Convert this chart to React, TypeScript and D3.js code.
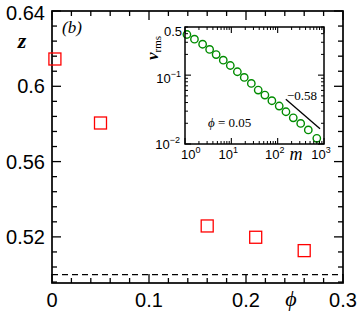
import React from "react";
import * as d3 from "d3";

// main panel: exponent z against packing fraction phi
const phiValues = [0.003, 0.05, 0.16, 0.21, 0.26];
const zValues = [0.6145, 0.5805, 0.5258, 0.5198, 0.5127];
const zRef = 0.5;
const xTickVals = [0, 0.1, 0.2, 0.3];
const xTickLabels = ["0", "0.1", "0.2", "0.3"];
const yTickVals = [0.52, 0.56, 0.6, 0.64];
const yTickLabels = ["0.52", "0.56", "0.6", "0.64"];

// inset: v_rms against m at phi = 0.05
const mValues = [1.1, 1.6, 2.4, 3.4, 4.7, 6.7, 9.5, 13.5, 19, 27, 38, 53, 75, 108, 151, 217, 314, 458, 699];
const vValues = [0.389, 0.333, 0.281, 0.236, 0.199, 0.165, 0.138, 0.112, 0.0927, 0.0759, 0.0607, 0.0513, 0.0425, 0.0356, 0.0294, 0.024, 0.0199, 0.016, 0.0121];
const slopeM = [150, 820];
const slopeV = [0.0445, 0.0166];
const insetXTicks = [1, 10, 100, 1000];
const insetXExps = ["0", "1", "2", "3"];
const insetYTicks = [0.01, 0.1, 0.5];

const W = 361;
const H = 318;
const sans = "'Liberation Sans', Arial, sans-serif";
const serif = "'Liberation Serif', 'Times New Roman', serif";

export default function App() {
  const m = { left: 52, right: 343, top: 11, bottom: 283 };
  const x = d3.scaleLinear().domain([0, 0.3]).range([m.left, m.right]);
  const y = d3.scaleLinear().domain([0.4955, 0.64]).range([m.bottom, m.top]);

  const xMinor = d3.range(0, 0.3001, 0.02);
  const yMinor = d3.range(0.496, 0.6401, 0.008);

  // inset frame
  const ins = { left: 185, right: 324, top: 27, bottom: 144 };
  const ix = d3.scaleLog().domain([1, 1000]).range([ins.left, ins.right]);
  const iy = d3.scaleLog().domain([0.01, 0.5]).range([ins.bottom, ins.top]);
  const ixMinor: number[] = [];
  [1, 10, 100].forEach((d) => {
    for (let k = 2; k <= 9; k++) ixMinor.push(d * k);
  });
  const iyMinor: number[] = [];
  [0.01, 0.1].forEach((d) => {
    for (let k = 2; k <= 9; k++) if (d * k <= 0.5) iyMinor.push(d * k);
  });

  const sq = 12;

  return (
    <svg width={W} height={H} style={{ position: "absolute", left: 0, top: 0, background: "#fff" }}>
      {/* dashed reference z = 1/2 */}
      <line x1={m.left} x2={m.right} y1={y(zRef)} y2={y(zRef)} stroke="#000" strokeWidth={1.3} strokeDasharray="6,4" />

      {/* main frame */}
      <rect x={m.left} y={m.top} width={m.right - m.left} height={m.bottom - m.top} fill="none" stroke="#000" strokeWidth={1.7} />

      {/* x ticks bottom & top */}
      {xMinor.map((v, i) => {
        const major = xTickVals.some((t) => Math.abs(t - v) < 1e-6);
        const len = major ? 9 : 5;
        return (
          <g key={"xt" + i}>
            <line x1={x(v)} x2={x(v)} y1={m.bottom} y2={m.bottom - len} stroke="#000" strokeWidth={1.3} />
            <line x1={x(v)} x2={x(v)} y1={m.top} y2={m.top + len} stroke="#000" strokeWidth={1.3} />
          </g>
        );
      })}
      {yMinor.map((v, i) => {
        const major = yTickVals.some((t) => Math.abs(t - v) < 1e-6);
        const len = major ? 9 : 5;
        return (
          <g key={"yt" + i}>
            <line x1={m.left} x2={m.left + len} y1={y(v)} y2={y(v)} stroke="#000" strokeWidth={1.3} />
            <line x1={m.right} x2={m.right - len} y1={y(v)} y2={y(v)} stroke="#000" strokeWidth={1.3} />
          </g>
        );
      })}

      {xTickVals.map((v, i) => (
        <text key={"xl" + i} x={x(v)} y={307} textAnchor="middle" fontFamily={sans} fontSize={20}>
          {xTickLabels[i]}
        </text>
      ))}
      {yTickVals.map((v, i) => (
        <text key={"yl" + i} x={45} y={Math.max(y(v), 13) + 7} textAnchor="end" fontFamily={sans} fontSize={20}>
          {yTickLabels[i]}
        </text>
      ))}

      <text x={22} y={48} textAnchor="middle" fontFamily={serif} fontStyle="italic" fontWeight="bold" fontSize={22}>z</text>
      <text x={291} y={306} textAnchor="middle" fontFamily={serif} fontStyle="italic" fontSize={22}>ϕ</text>
      <text x={72} y={33} textAnchor="middle" fontFamily={serif} fontStyle="italic" fontSize={17}>(b)</text>

      {/* red squares */}
      {phiValues.map((p, i) => (
        <rect key={"sq" + i} x={x(p) - sq / 2} y={y(zValues[i]) - sq / 2} width={sq} height={sq} fill="none" stroke="#ff0000" strokeWidth={1.3} />
      ))}

      {/* inset */}
      <rect x={ins.left} y={ins.top} width={ins.right - ins.left} height={ins.bottom - ins.top} fill="#fff" stroke="none" />
      <line
        x1={ix(slopeM[0])} y1={iy(slopeV[0])} x2={ix(slopeM[1])} y2={iy(slopeV[1])}
        stroke="#000" strokeWidth={1.3}
      />
      {mValues.map((mv, i) => (
        <circle key={"c" + i} cx={ix(mv)} cy={iy(vValues[i])} r={3.7} fill="none" stroke="#008c00" strokeWidth={1.4} />
      ))}
      <rect x={ins.left} y={ins.top} width={ins.right - ins.left} height={ins.bottom - ins.top} fill="none" stroke="#000" strokeWidth={1.5} />
      {insetXTicks.map((v, i) => (
        <g key={"ixt" + i}>
          <line x1={ix(v)} x2={ix(v)} y1={ins.bottom} y2={ins.bottom - 6} stroke="#000" strokeWidth={1.1} />
          <line x1={ix(v)} x2={ix(v)} y1={ins.top} y2={ins.top + 6} stroke="#000" strokeWidth={1.1} />
        </g>
      ))}
      {ixMinor.map((v, i) => (
        <g key={"ixm" + i}>
          <line x1={ix(v)} x2={ix(v)} y1={ins.bottom} y2={ins.bottom - 3} stroke="#000" strokeWidth={1} />
          <line x1={ix(v)} x2={ix(v)} y1={ins.top} y2={ins.top + 3} stroke="#000" strokeWidth={1} />
        </g>
      ))}
      {[0.01, 0.1].map((v, i) => (
        <g key={"iyt" + i}>
          <line x1={ins.left} x2={ins.left + 6} y1={iy(v)} y2={iy(v)} stroke="#000" strokeWidth={1.1} />
          <line x1={ins.right} x2={ins.right - 6} y1={iy(v)} y2={iy(v)} stroke="#000" strokeWidth={1.1} />
        </g>
      ))}
      {iyMinor.map((v, i) => (
        <g key={"iym" + i}>
          <line x1={ins.left} x2={ins.left + 3} y1={iy(v)} y2={iy(v)} stroke="#000" strokeWidth={1} />
          <line x1={ins.right} x2={ins.right - 3} y1={iy(v)} y2={iy(v)} stroke="#000" strokeWidth={1} />
        </g>
      ))}

      {/* inset tick labels */}
      {insetXTicks.map((v, i) => (
        <text
          key={"ixl" + i}
          x={i === 0 ? ix(v) - 4 : ix(v) - 3}
          y={159}
          textAnchor={i === 0 ? "start" : "middle"}
          fontFamily={sans}
          fontSize={13}
        >
          10<tspan dy={-6} fontSize={9}>{insetXExps[i]}</tspan>
        </text>
      ))}
      <text x={182} y={36} textAnchor="end" fontFamily={sans} fontSize={13}>{insetYTicks[2]}</text>
      <text x={181} y={iy(insetYTicks[1]) + 8} textAnchor="end" fontFamily={sans} fontSize={13}>
        10<tspan dy={-6} fontSize={9}>−1</tspan>
      </text>
      <text x={180} y={iy(insetYTicks[0]) + 5} textAnchor="end" fontFamily={sans} fontSize={13}>
        10<tspan dy={-6} fontSize={9}>−2</tspan>
      </text>

      <text x={296} y={160} textAnchor="middle" fontFamily={serif} fontStyle="italic" fontSize={18}>m</text>
      <text transform="translate(158,48) rotate(-90)" textAnchor="middle" fontFamily={serif} fontSize={17}>
        <tspan fontStyle="italic" fontWeight="bold">v</tspan>
        <tspan dy={3} fontSize={11}>rms</tspan>
      </text>
      <text x={287} y={100} fontFamily={serif} fontSize={13}>−0.58</text>
      <text x={208} y={127} fontFamily={serif} fontSize={13}>
        <tspan fontStyle="italic">ϕ</tspan> = 0.05
      </text>
    </svg>
  );
}
